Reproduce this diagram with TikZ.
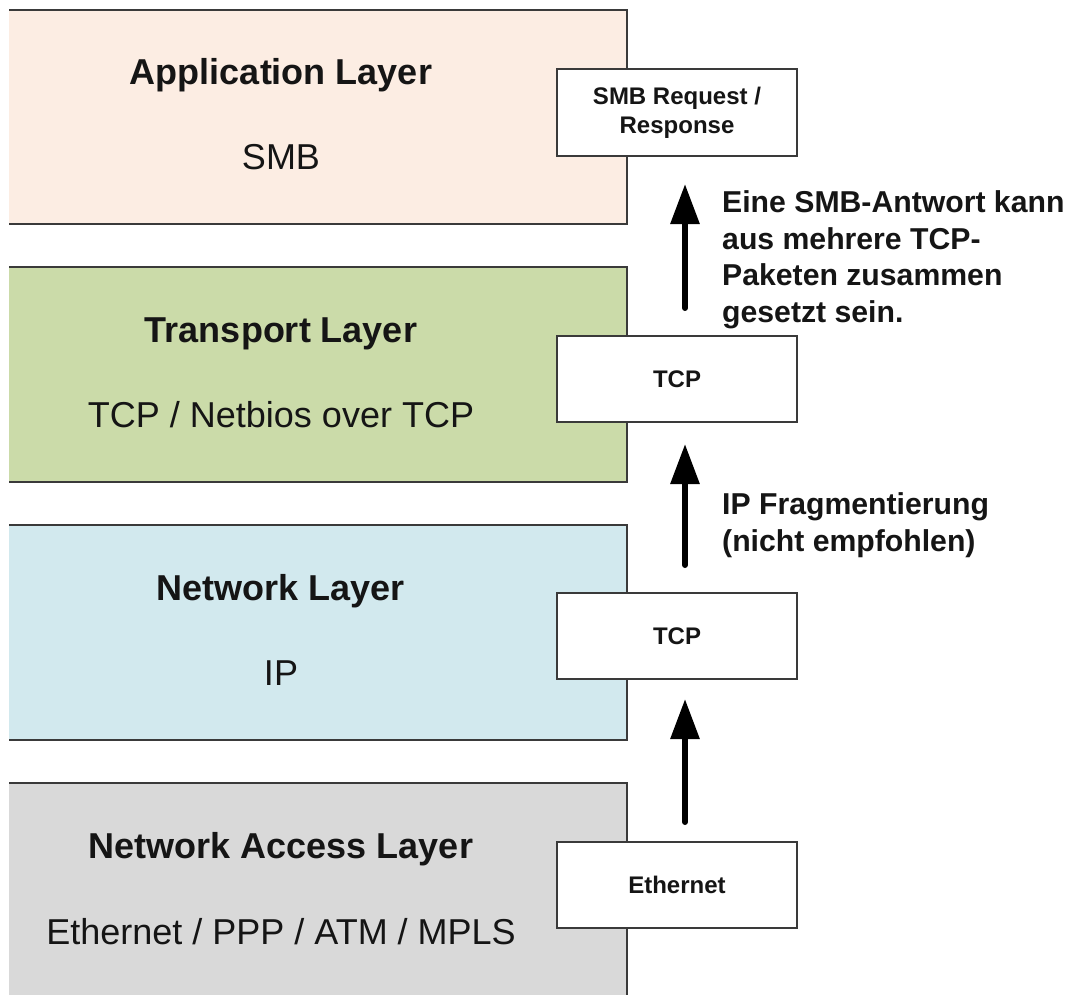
\documentclass[tikz,border=0pt]{standalone}
\usepackage{fontspec}
\setmainfont{Liberation Sans}
\usetikzlibrary{arrows.meta}

\definecolor{appfill}{HTML}{FCEDE3}
\definecolor{transfill}{HTML}{CBDBA9}
\definecolor{netfill}{HTML}{D2E9EE}
\definecolor{accfill}{HTML}{D9D9D9}
\definecolor{framegray}{HTML}{3A3A3A}
\definecolor{inkdark}{HTML}{151515}

\tikzset{
  border/.style={draw=framegray, line width=2pt, line join=miter},
  pkt/.style={draw=framegray, line width=2pt, fill=white, minimum width=240pt,
    minimum height=86pt, inner sep=0pt, align=center, text=inkdark,
    font=\fontsize{24}{29}\selectfont\bfseries},
  title/.style={anchor=base, inner sep=0pt, text=inkdark,
    font=\fontsize{36}{43}\selectfont\bfseries},
  proto/.style={anchor=base, inner sep=0pt, text=inkdark,
    font=\fontsize{36}{43}\selectfont},
  up/.style={draw=black, line width=6pt, line cap=round,
    -{Triangle[length=40pt,width=28pt]}},
  note/.style={anchor=base west, align=left, inner sep=0pt, text=inkdark,
    font=\fontsize{30.2}{36.5}\selectfont\bfseries}
}

\begin{document}
\begin{tikzpicture}[x=1pt,y=-1pt]
\useasboundingbox (0,0) rectangle (1070,995);

% layer bands
\fill[appfill]   (9,10)  rectangle (627,224);
\fill[transfill] (9,267) rectangle (627,482);
\fill[netfill]   (9,525) rectangle (627,740);
\fill[accfill]   (9,783) rectangle (627,995);
\draw[border] (9,10)  -- (627,10)  -- (627,224) -- (9,224);
\draw[border] (9,267) -- (627,267) -- (627,482) -- (9,482);
\draw[border] (9,525) -- (627,525) -- (627,740) -- (9,740);
\draw[border] (9,783) -- (627,783) -- (627,995);

% layer labels
\node[title] (apptitle) at (281,85)  {Application Layer};
\node[proto] (appproto) at (281,170) {SMB};
\node[title] (trtitle)  at (281,342) {Transport Layer};
\node[proto] (trproto)  at (281,427) {TCP / Netbios over TCP};
\node[title] (nettitle) at (281,600) {Network Layer};
\node[proto] (netproto) at (281,685) {IP};
\node[title] (acctitle) at (281,858) {Network Access Layer};
\node[proto] (accproto) at (281,944) {Ethernet / PPP / ATM / MPLS};

% data units
\node[pkt, minimum height=87pt] (smb) at (677,112.5) {SMB Request /\\Response};
\node[pkt] (tcpa) at (677,379) {TCP};
\node[pkt] (tcpb) at (677,636) {TCP};
\node[pkt] (eth)  at (677,885) {Ethernet};

% flow upwards, slightly right of the box centres
\draw[up, shorten <=19pt, shorten >=19pt] ([xshift=8pt]eth.north)  -- ([xshift=8pt]tcpb.south);
\draw[up, shorten <=27pt, shorten >=21pt] ([xshift=8pt]tcpb.north) -- ([xshift=8pt]tcpa.south);
\draw[up, shorten <=27pt, shorten >=27pt] ([xshift=8pt]tcpa.north) -- ([xshift=8pt]smb.south);

% remarks (anchored at the baseline of their last line)
\node[note] (noteA) at (722,322) {Eine SMB-Antwort kann\\aus mehrere TCP-\\Paketen zusammen\\gesetzt sein.};
\node[note] (noteB) at (722,551) {IP Fragmentierung\\(nicht empfohlen)};
\end{tikzpicture}
\end{document}
